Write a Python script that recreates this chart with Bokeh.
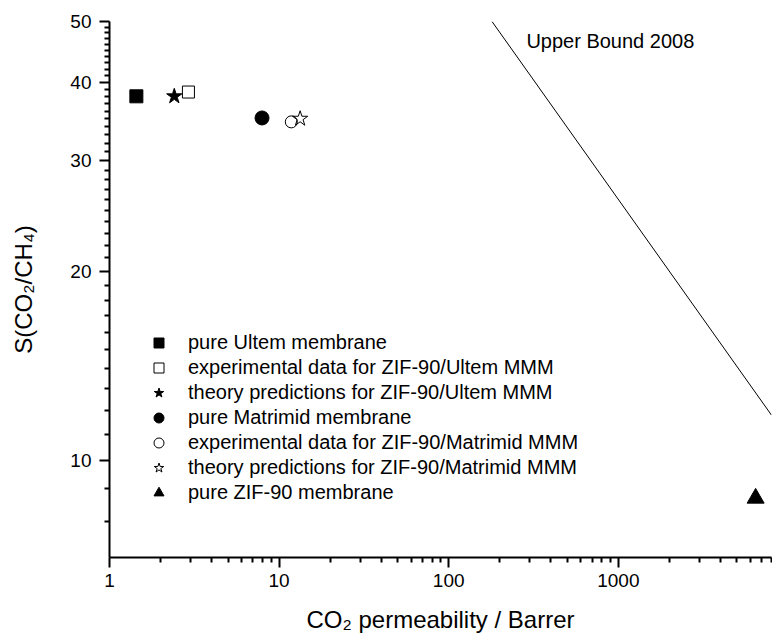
from bokeh.plotting import figure
from bokeh.models import FixedTicker, PrintfTickFormatter, Legend, LegendItem, Range1d
from bokeh.embed import file_html
from bokeh.resources import INLINE
from bokeh.core.properties import value

# ---- data ----
ultem_pure_x = [1.44]
ultem_pure_y = [38.0]
ultem_exp_x = [2.92]
ultem_exp_y = [38.6]
ultem_th_x = [2.41]
ultem_th_y = [38.0]
mat_pure_x = [7.93]
mat_pure_y = [35.1]
mat_exp_x = [11.8]
mat_exp_y = [34.6]
mat_th_x = [13.3]
mat_th_y = [35.0]
zif_x = [6450]
zif_y = [8.7]
upper_bound_x = [180, 8000]
upper_bound_y = [50, 11.8]
upper_label = ["Upper Bound 2008"]
upper_label_x = [287]
upper_label_y = [46.6]

x_major = [1, 10, 100, 1000]
x_minor = [2, 3, 4, 5, 6, 7, 8, 9, 20, 30, 40, 50, 60, 70, 80, 90,
           200, 300, 400, 500, 600, 700, 800, 900, 2000, 3000, 4000, 5000, 6000, 7000, 8000]
y_major = [10, 20, 30, 40, 50]
y_minor = [8, 9] + list(range(11, 20)) + list(range(21, 30)) + list(range(31, 40)) + list(range(41, 50))

labels = ["pure Ultem membrane",
          "experimental data for ZIF-90/Ultem MMM",
          "theory predictions for ZIF-90/Ultem MMM",
          "pure Matrimid membrane",
          "experimental data for ZIF-90/Matrimid MMM",
          "theory predictions for ZIF-90/Matrimid MMM",
          "pure ZIF-90 membrane"]

FONT = "Liberation Sans"

p = figure(width=772, height=637, x_axis_type="log", y_axis_type="log",
           x_range=Range1d(1, 8000), y_range=Range1d(7, 50),
           output_backend="svg", toolbar_location=None,
           min_border_left=109, min_border_right=1, min_border_top=21, min_border_bottom=80)
p.outline_line_color = None
p.xgrid.visible = False
p.ygrid.visible = False
p.background_fill_color = "white"

# upper bound
p.line(upper_bound_x, upper_bound_y, line_color="black", line_width=1)
p.text(upper_label_x, upper_label_y, text=upper_label, text_font=value(FONT),
       text_font_size="20px", text_baseline="middle", text_align="left", text_color="black")

r1 = p.scatter(ultem_pure_x, ultem_pure_y, marker="square", size=13, fill_color="black", line_color="black")
r2 = p.scatter(ultem_exp_x, ultem_exp_y, marker="square", size=12, fill_color="white", line_color="black")
r3 = p.scatter(ultem_th_x, ultem_th_y, marker="star", size=16, fill_color="black", line_color="black")
r4 = p.scatter(mat_pure_x, mat_pure_y, marker="circle", size=14, fill_color="black", line_color="black")
r5 = p.scatter(mat_exp_x, mat_exp_y, marker="circle", size=12, fill_color=None, line_color="black")
r6 = p.scatter(mat_th_x, mat_th_y, marker="star", size=16, fill_color=None, line_color="black")
r7 = p.scatter(zif_x, zif_y, marker="triangle", size=17, fill_color="black", line_color="black")

items = [LegendItem(label=l, renderers=[r]) for l, r in zip(labels, [r1, r2, r3, r4, r5, r6, r7])]
legend = Legend(items=items, location=(37, 52), border_line_color=None,
                background_fill_alpha=0, padding=0, margin=0,
                glyph_width=25, glyph_height=25, label_height=25, spacing=0,
                label_standoff=17, label_text_font=FONT, label_text_font_size="20px",
                label_text_color="black")
p.add_layout(legend, "center")

# axes
for ax in (p.xaxis[0], p.yaxis[0]):
    ax.axis_line_width = 2
    ax.axis_line_color = "black"
    ax.major_tick_line_width = 2
    ax.minor_tick_line_width = 2
    ax.major_tick_in = 0
    ax.major_tick_out = 10
    ax.minor_tick_in = 0
    ax.minor_tick_out = 5
    ax.major_label_text_font = FONT
    ax.major_label_text_font_size = "19px"
    ax.major_label_text_color = "black"
    ax.axis_label_text_font = FONT
    ax.axis_label_text_font_size = "24px"
    ax.axis_label_text_font_style = "normal"
    ax.axis_label_text_color = "black"
    ax.formatter = PrintfTickFormatter(format="%d")

p.xaxis.ticker = FixedTicker(ticks=x_major, minor_ticks=x_minor)
p.yaxis.ticker = FixedTicker(ticks=y_major, minor_ticks=y_minor)
p.xaxis.axis_label = "CO₂ permeability / Barrer"
p.yaxis.axis_label = "S(CO₂/CH₄)"
p.xaxis.major_label_standoff = 6
p.yaxis.major_label_standoff = 8
p.xaxis.axis_label_standoff = 16
p.yaxis.axis_label_standoff = 30

open("out.html", "w").write(file_html(p, INLINE))
